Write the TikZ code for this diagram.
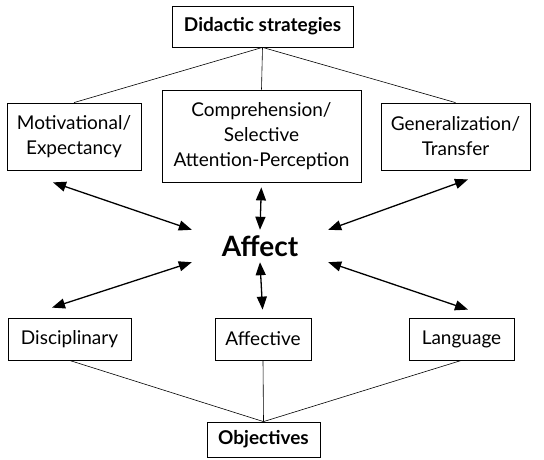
\documentclass[tikz,border=0pt]{standalone}
\usepackage{fontspec}
\setmainfont{Lato}
\usetikzlibrary{calc}
\usetikzlibrary{arrows.meta}

\begin{document}
\begin{tikzpicture}[x=1pt,y=1pt,
        box/.style={draw,line width=0.8pt,align=center,inner sep=0pt,font=\fontsize{19}{25}\selectfont},
        link/.style={line width=0.6pt},
        twoway/.style={line width=1.3pt,{Triangle[length=13pt,width=10pt]}-{Triangle[length=13pt,width=10pt]}}]
    \useasboundingbox (0,0) rectangle (544,459);
    %top row
    \node[box,minimum width=181,minimum height=41,font=\fontsize{19}{25}\selectfont\bfseries] (strat) at (262.5,432.5) {Didactic strategies};
    \node[box,minimum width=134,minimum height=67] (motiv) at (74,322.5) {Motivational/\\Expectancy};
    \node[box,minimum width=199,minimum height=92] (compr) at (261.5,323) {Comprehension/\\Selective\\Attention-Perception};
    \node[box,minimum width=149,minimum height=67] (gener) at (455.5,322.5) {Generalization/\\Transfer};
    %centre
    \node[inner sep=0pt,minimum width=136,minimum height=32,font=\fontsize{28}{32}\selectfont\bfseries] (affect) at (260,213) {Affect};
    %bottom row
    \node[box,minimum width=123,minimum height=42] (disc) at (69.5,120) {Disciplinary};
    \node[box,minimum width=96,minimum height=42] (affv) at (263,120) {Affective};
    \node[box,minimum width=105,minimum height=42] (lang) at (461.5,120) {Language};
    \node[box,minimum width=113,minimum height=35,font=\fontsize{19}{25}\selectfont\bfseries] (obj) at (263.5,19.5) {Objectives};
    %free arrow ends
    \coordinate (motivEnd) at ($(motiv.south)+(-21,-12)$);
    \coordinate (generEnd) at ($(gener.south)+(12.5,-9)$);
    \coordinate (discEnd) at ($(disc.north)+(-17.5,10)$);
    \coordinate (langEnd) at ($(lang.north)+(6.5,8)$);
    %tree lines
    \foreach \n in {motiv,compr,gener} {
        \draw[link] (strat.south) -- (\n.north);}
    \foreach \n in {disc,affv,lang} {
        \draw[link] (\n.south) -- (obj.north);}
    %arrows
    \draw[twoway] (motivEnd) -- (affect.north west);
    \draw[twoway] (generEnd) -- (affect.north east);
    \draw[twoway] (discEnd) -- (affect.south west);
    \draw[twoway] (langEnd) -- (affect.south east);
    \draw[twoway,shorten <=5pt] (compr.south) -- (affect.north);
    \draw[twoway,shorten >=8pt] (affect.south) -- (affv.north);
\end{tikzpicture}
\end{document}
